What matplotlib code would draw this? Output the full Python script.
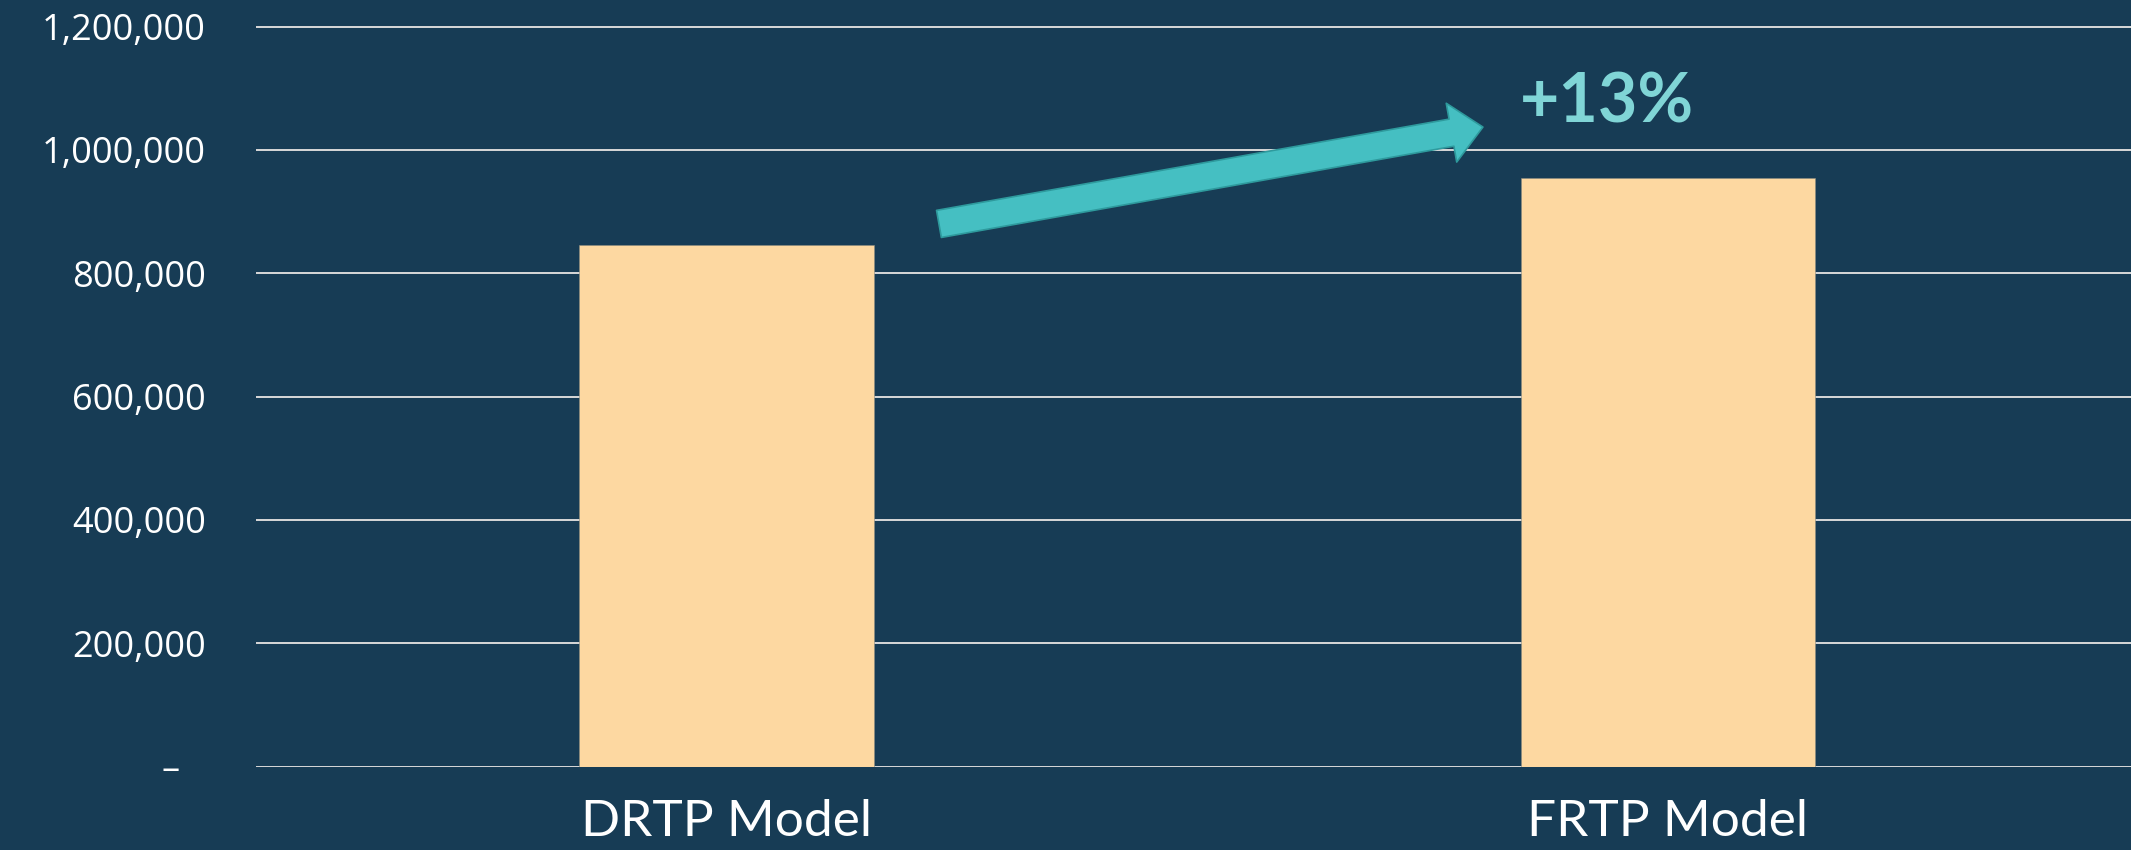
import matplotlib
matplotlib.use("Agg")
import matplotlib.pyplot as plt
from matplotlib.transforms import ScaledTranslation

# ---- data ----
categories = ["DRTP Model", "FRTP Model"]
values = [845000, 955000]
yticks = [0, 200000, 400000, 600000, 800000, 1000000, 1200000]
ytick_labels = ["\u2013", "200,000", "400,000", "600,000", "800,000", "1,000,000", "1,200,000"]

# ---- style ----
BG = "#173C55"
BAR = "#FDD8A1"
GRID = "#D9D9D9"
ARROW_FC = "#45BFC2"
ARROW_EC = "#2E9A9D"
PCT_COLOR = "#80D5D6"
FONT = "Lato"

fig = plt.figure(figsize=(21.31, 8.5), dpi=100, facecolor=BG)
ax = fig.add_axes([0.12, 0.098, 0.8836, 0.8853], facecolor=BG)

x = list(range(len(categories)))
ax.bar(x, values, width=0.313, color=BAR, zorder=3, edgecolor="#8a8a80", linewidth=0.4)

ax.set_xlim(-0.5, 1.5)
ax.set_ylim(0, 1220000)
ax.set_yticks(yticks)
ax.set_yticklabels(ytick_labels, fontsize=26, color="white", family="Open Sans")
ax.set_xticks(x)
ax.set_xticklabels(categories, fontsize=37, color="white", family=FONT)
ax.tick_params(axis="y", length=0, pad=36)
ax.tick_params(axis="x", length=0, pad=23)
ax.yaxis.grid(True, color=GRID, linewidth=1.4, zorder=0)
ax.set_axisbelow(True)
for s in ax.spines.values():
    s.set_visible(False)

# move the zero dash left like accounting format
zlab = ax.get_yticklabels()[0]
zlab.set_transform(zlab.get_transform() + ScaledTranslation(-26 / 100, 0, fig.dpi_scale_trans))

# ---- growth arrow & label ----
pct = round((values[1] / values[0] - 1) * 100)
ax.annotate("", xy=(0.8035, 1037000), xytext=(0.2257, 880000),
            arrowprops=dict(arrowstyle="simple,head_length=23,head_width=43,tail_width=19.8",
                            mutation_scale=1, fc=ARROW_FC, ec=ARROW_EC, lw=1.2,
                            shrinkA=0, shrinkB=0), zorder=4)
ax.text(0.843, 1045000, f"+{pct}%", fontsize=49, fontweight="bold", color=PCT_COLOR,
        family=FONT, ha="left", va="baseline", zorder=5)

fig.savefig("out.png", dpi=100, facecolor=BG)
